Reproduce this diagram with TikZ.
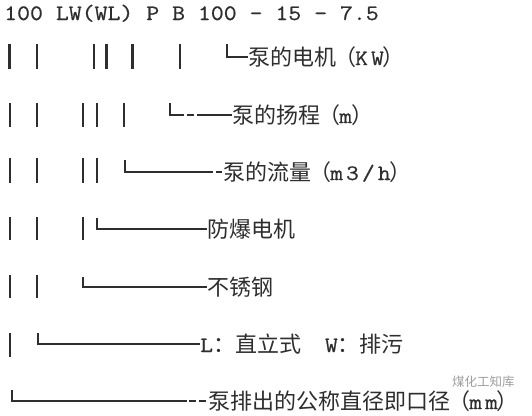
\documentclass[tikz,border=0pt]{standalone}
\usepackage{fontspec}
\setmainfont{Latin Modern Mono}
\newfontfamily\cjk{Noto Sans CJK SC}
\newfontfamily\hmono[FakeStretch=1.14,FakeBold=0.7]{Latin Modern Mono}
\newfontfamily\monow[FakeStretch=1.13,LetterSpace=14,FakeBold=0.7]{Latin Modern Mono}
\definecolor{ink}{HTML}{2E2E2E}
\newcommand\lat[1]{{\monow #1}}
\newcommand\lpr{\kern-2pt（\kern-1pt}
\newcommand\rpr{\kern-1pt）}
\tikzset{
  bar/.style={line width=2.2pt, draw=ink},
  lead/.style={line width=1.3pt, draw=ink},
  dashlead/.style={line width=1.3pt, draw=ink, dash pattern=on 7pt off 3pt},
  lbl/.style={anchor=base west, inner sep=0pt, text=ink, font=\cjk\fontsize{22}{22}\selectfont},
  head/.style={anchor=base west, inner sep=0pt, text=ink, font=\hmono\fontsize{22}{22}\selectfont},
  wmark/.style={anchor=base west, inner sep=0pt, text=gray!75, font=\cjk\fontsize{12.5}{13}\selectfont}
}
\begin{document}
\begin{tikzpicture}[x=1pt,y=-1pt]
\useasboundingbox (0,0) rectangle (532,415);
\fill[white] (0,0) rectangle (532,415);
% header
\node[head] (hd) at (4,20) {100 LW(WL) P B 100 - 15 - 7.5};
% vertical bars
\foreach \x in {9.5,37,94,106.5,132.5,180} \draw[bar] (\x,44) -- (\x,69);
\foreach \x in {10,37,83,97,124} \draw[bar] (\x,103) -- (\x,127);
\foreach \x in {10,37,83,97} \draw[bar] (\x,158) -- (\x,183);
\foreach \x in {10,37,83} \draw[bar] (\x,217) -- (\x,240);
\foreach \x in {10,37} \draw[bar] (\x,275) -- (\x,298);
\draw[bar] (10,333) -- (10,357);
% labels
\node[lbl] (t2) at (248,65) {泵的电机\lpr\lat{KW}\rpr};
\node[lbl] (t3) at (232,123) {泵的扬程\lpr\lat{m}\rpr};
\node[lbl] (t4) at (223,180) {泵的流量\lpr\lat{m3/h}\rpr};
\node[lbl] (t5) at (207,237) {防爆电机};
\node[lbl] (t6) at (207,295) {不锈钢};
\node[lbl] (t7) at (200,352) {\lat{L}：直立式\hspace{24pt}\lat{W}：排污};
\node[lbl] (t8) at (208,409) {泵排出的公称直径即口径\lpr\lat{mm}\rpr};
% leaders
\coordinate (c2) at (227,44);
\draw[lead] (c2) |- ([yshift=8pt]t2.base west);
\coordinate (c3) at (170,103);
\coordinate (d3) at (200,115);
\draw[lead] (c3) |- (177,115);
\draw[dashlead] (177,115) -- (d3);
\draw[lead] (d3) -- ([yshift=8pt]t3.base west);
\coordinate (c4) at (125,160);
\coordinate (d4) at (213,172);
\draw[lead] (c4) |- (d4);
\draw[lead] (216,172) -- ([yshift=8pt,xshift=-1pt]t4.base west);
\coordinate (c5) at (97,218);
\draw[lead] (c5) |- ([yshift=8pt]t5.base west);
\coordinate (c6) at (83,277);
\draw[lead] (c6) |- ([yshift=8pt]t6.base west);
\coordinate (c7) at (38,333);
\draw[lead] (c7) |- ([yshift=8pt]t7.base west);
\coordinate (c8) at (12,390);
\coordinate (d8) at (187,401);
\draw[lead] (c8) |- (d8);
\draw[dashlead] (189,401) -- ([yshift=8pt]t8.base west);
% watermark
\node[wmark] (wm) at (452,386) {煤化工知库};
\end{tikzpicture}
\end{document}
